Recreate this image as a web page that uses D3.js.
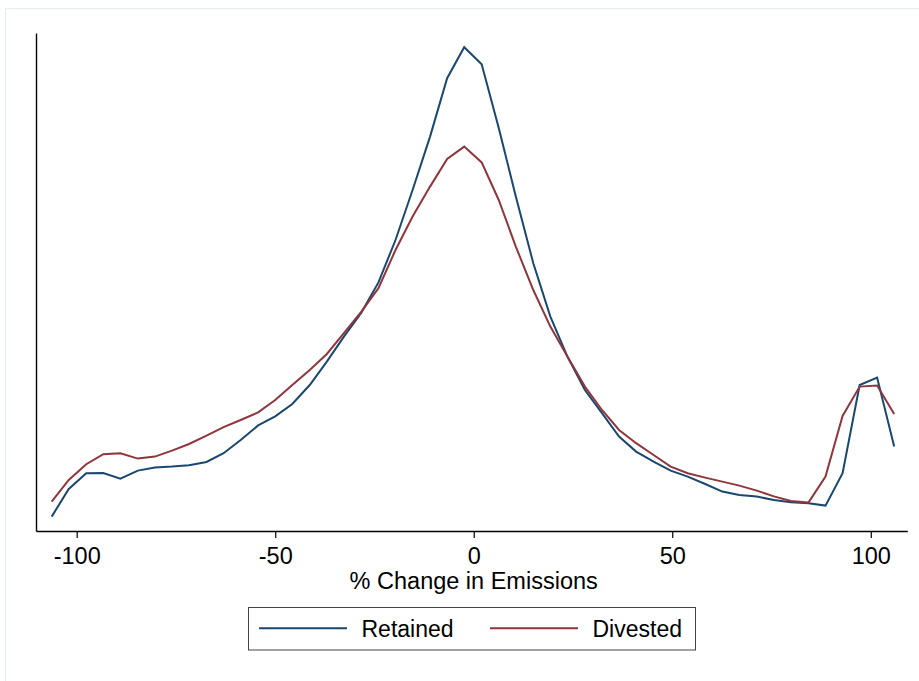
<!DOCTYPE html>
<html>
<head>
<meta charset="utf-8">
<script src="https://cdn.jsdelivr.net/npm/d3@7"></script>
<style>
  body { margin: 0; background: #fff; }
  text { font-family: "Liberation Sans", Arial, sans-serif; fill: #000; }
</style>
</head>
<body>
<script>

var width = 919,
    height = 681;

// kdensity evaluation points (% change in emissions)
var xPoints = [-106.3, -102.0, -97.6, -93.3, -89.0, -84.6, -80.3, -76.0, -71.7, -67.3,
               -63.0, -58.7, -54.3, -50.0, -45.7, -41.3, -37.0, -32.7, -28.3, -24.0,
               -19.7, -15.4, -11.0, -6.7, -2.4, 2.0, 6.3, 10.6, 15.0, 19.3,
               23.6, 28.0, 32.3, 36.6, 40.9, 45.3, 49.6, 53.9, 58.3, 62.6,
               66.9, 71.3, 75.6, 79.9, 84.3, 88.6, 92.9, 97.2, 101.6, 105.9];

var retained = [0.00072, 0.00210, 0.00289, 0.00290, 0.00262, 0.00302, 0.00317, 0.00322, 0.00329, 0.00345,
                0.00389, 0.00455, 0.00528, 0.00573, 0.00635, 0.00730, 0.00847, 0.00972, 0.01092, 0.01243,
                0.01455, 0.01705, 0.01972, 0.02264, 0.02419, 0.02334, 0.02015, 0.01672, 0.01339, 0.01072,
                0.00872, 0.00705, 0.00589, 0.00472, 0.00397, 0.00347, 0.00302, 0.00272, 0.00235, 0.00197,
                0.00180, 0.00172, 0.00155, 0.00144, 0.00139, 0.00127, 0.00289, 0.00730, 0.00767, 0.00422];

var divested = [0.00147, 0.00255, 0.00334, 0.00384, 0.00389, 0.00362, 0.00372, 0.00402, 0.00435, 0.00477,
                0.00519, 0.00555, 0.00593, 0.00655, 0.00730, 0.00805, 0.00885, 0.00989, 0.01097, 0.01214,
                0.01405, 0.01572, 0.01722, 0.01860, 0.01922, 0.01843, 0.01655, 0.01422, 0.01205, 0.01022,
                0.00872, 0.00722, 0.00605, 0.00505, 0.00439, 0.00380, 0.00322, 0.00289, 0.00267, 0.00247,
                0.00227, 0.00202, 0.00173, 0.00150, 0.00142, 0.00272, 0.00575, 0.00722, 0.00727, 0.00585];

var xTicks = [-100, -50, 0, 50, 100];

var series = [
  { name: "Retained", values: retained, color: "#1a476f" },
  { name: "Divested", values: divested, color: "#90353b" }
];

var svg = d3.select("body").append("svg")
    .attr("width", width)
    .attr("height", height);

// faint graph region outline
svg.append("rect")
    .attr("x", 5.5).attr("y", 8.5)
    .attr("width", width + 10).attr("height", height + 10)
    .attr("fill", "none")
    .attr("stroke", "#e6eeee")
    .attr("stroke-width", 1.2);

var x = d3.scaleLinear().domain([-110.25, 109.2]).range([36, 907.3]);
var y = d3.scaleLinear().domain([0, 0.0249]).range([531, 33]);

// x axis
var xAxis = svg.append("g")
    .attr("transform", "translate(0,531)")
    .call(d3.axisBottom(x).tickValues(xTicks).tickSizeInner(7).tickSizeOuter(0).tickPadding(9)
      .tickFormat(function(d) { return d < 0 ? "-" + Math.abs(d) : d; }));
xAxis.select(".domain").attr("stroke", "#000").attr("stroke-width", 1.4);
xAxis.selectAll(".tick line").attr("stroke", "#000").attr("stroke-width", 1.2);
xAxis.selectAll(".tick text")
    .attr("font-size", 23.5)
    .attr("font-family", "Liberation Sans, Arial, sans-serif")
    .attr("fill", "#000");

// y axis (no ticks)
var yAxis = svg.append("g")
    .attr("transform", "translate(36,0)")
    .call(d3.axisLeft(y).tickValues([]).tickSizeOuter(0));
yAxis.select(".domain").attr("stroke", "#000").attr("stroke-width", 1.4);

svg.append("text")
    .attr("x", 473.7)
    .attr("y", 589)
    .attr("text-anchor", "middle")
    .attr("font-size", 23.5)
    .text("% Change in Emissions");

var line = d3.line()
    .x(function(d, i) { return x(xPoints[i]); })
    .y(function(d) { return y(d); });

svg.selectAll(".density")
    .data(series)
  .enter().append("path")
    .attr("class", "density")
    .attr("d", function(d) { return line(d.values); })
    .attr("fill", "none")
    .attr("stroke", function(d) { return d.color; })
    .attr("stroke-width", 2)
    .attr("stroke-linejoin", "miter");

// legend
var legend = svg.append("g");
legend.append("rect")
    .attr("x", 248.5).attr("y", 607.5)
    .attr("width", 447).attr("height", 42.5)
    .attr("fill", "#fff")
    .attr("stroke", "#444")
    .attr("stroke-width", 1);

var items = legend.selectAll(".item")
    .data(series)
  .enter().append("g")
    .attr("class", "item")
    .attr("transform", function(d, i) { return "translate(" + (259 + i * 231) + ",628.3)"; });

items.append("line")
    .attr("x1", 0).attr("x2", 88)
    .attr("stroke", function(d) { return d.color; })
    .attr("stroke-width", 2);

items.append("text")
    .attr("x", 102.5)
    .attr("y", 8.5)
    .attr("font-size", 23)
    .text(function(d) { return d.name; });

</script>
</body>
</html>
